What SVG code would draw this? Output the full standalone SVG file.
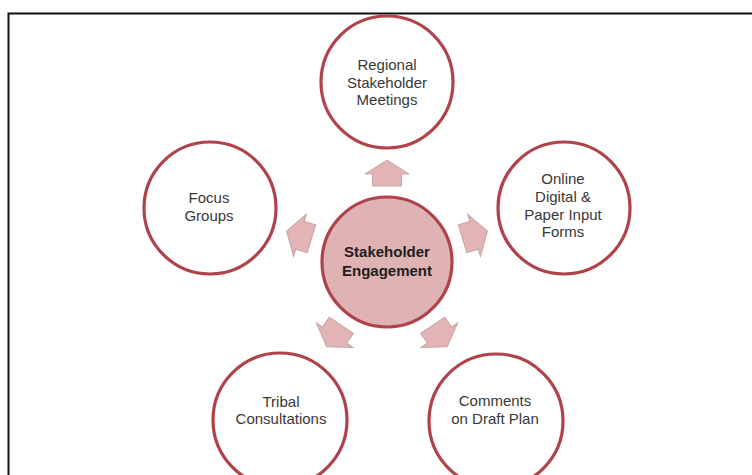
<svg xmlns="http://www.w3.org/2000/svg" width="752" height="475" viewBox="0 0 752 475">
<style>
.outer{fill:#ffffff;stroke:#b0424a;stroke-width:3.2}
.hub{fill:#dfb2b4;stroke:#b0424a;stroke-width:3.2}
.t{font-family:"Liberation Sans",Arial,sans-serif;font-size:15px;fill:#383838;text-anchor:middle}
.tb{font-family:"Liberation Sans",Arial,sans-serif;font-size:15px;font-weight:bold;fill:#1e1e1e;text-anchor:middle}
.arr{fill:#e2b4b5;stroke:#c9a3a4;stroke-width:1}
</style>
<defs>
<path id="arrow" d="M0,-13 L22,1 L14.5,1 L14.5,13 L-14.5,13 L-14.5,1 L-22,1 Z"/>
</defs>
<rect x="8.5" y="13.5" width="760" height="480" fill="#ffffff" stroke="#111111" stroke-width="2"/>
<g id="connectors">
<use href="#arrow" class="arr" transform="translate(387,173)"/>
<use href="#arrow" class="arr" transform="translate(299,235) rotate(-73)"/>
<use href="#arrow" class="arr" transform="translate(475,235) rotate(73)"/>
<use href="#arrow" class="arr" transform="translate(334,336) rotate(-146)"/>
<use href="#arrow" class="arr" transform="translate(440,336) rotate(146)"/>
</g>
<g id="node-hub">
<circle class="hub" cx="387" cy="262" r="65"/>
<text class="tb" x="387" y="257">Stakeholder</text>
<text class="tb" x="387" y="276">Engagement</text>
</g>
<g id="node-regional">
<circle class="outer" cx="387" cy="82" r="66"/>
<text class="t" x="387" y="70">Regional</text>
<text class="t" x="387" y="88">Stakeholder</text>
<text class="t" x="387" y="105">Meetings</text>
</g>
<g id="node-focus">
<circle class="outer" cx="210" cy="208" r="66"/>
<text class="t" x="209" y="203">Focus</text>
<text class="t" x="209" y="221">Groups</text>
</g>
<g id="node-online">
<circle class="outer" cx="564" cy="208" r="66"/>
<text class="t" x="563" y="184">Online</text>
<text class="t" x="563" y="202">Digital &amp;</text>
<text class="t" x="563" y="220">Paper Input</text>
<text class="t" x="563" y="237">Forms</text>
</g>
<g id="node-tribal">
<circle class="outer" cx="280" cy="420" r="67"/>
<text class="t" x="281" y="407">Tribal</text>
<text class="t" x="281" y="424">Consultations</text>
</g>
<g id="node-comments">
<circle class="outer" cx="496" cy="421" r="67"/>
<text class="t" x="495" y="406">Comments</text>
<text class="t" x="495" y="424">on Draft Plan</text>
</g>
</svg>
